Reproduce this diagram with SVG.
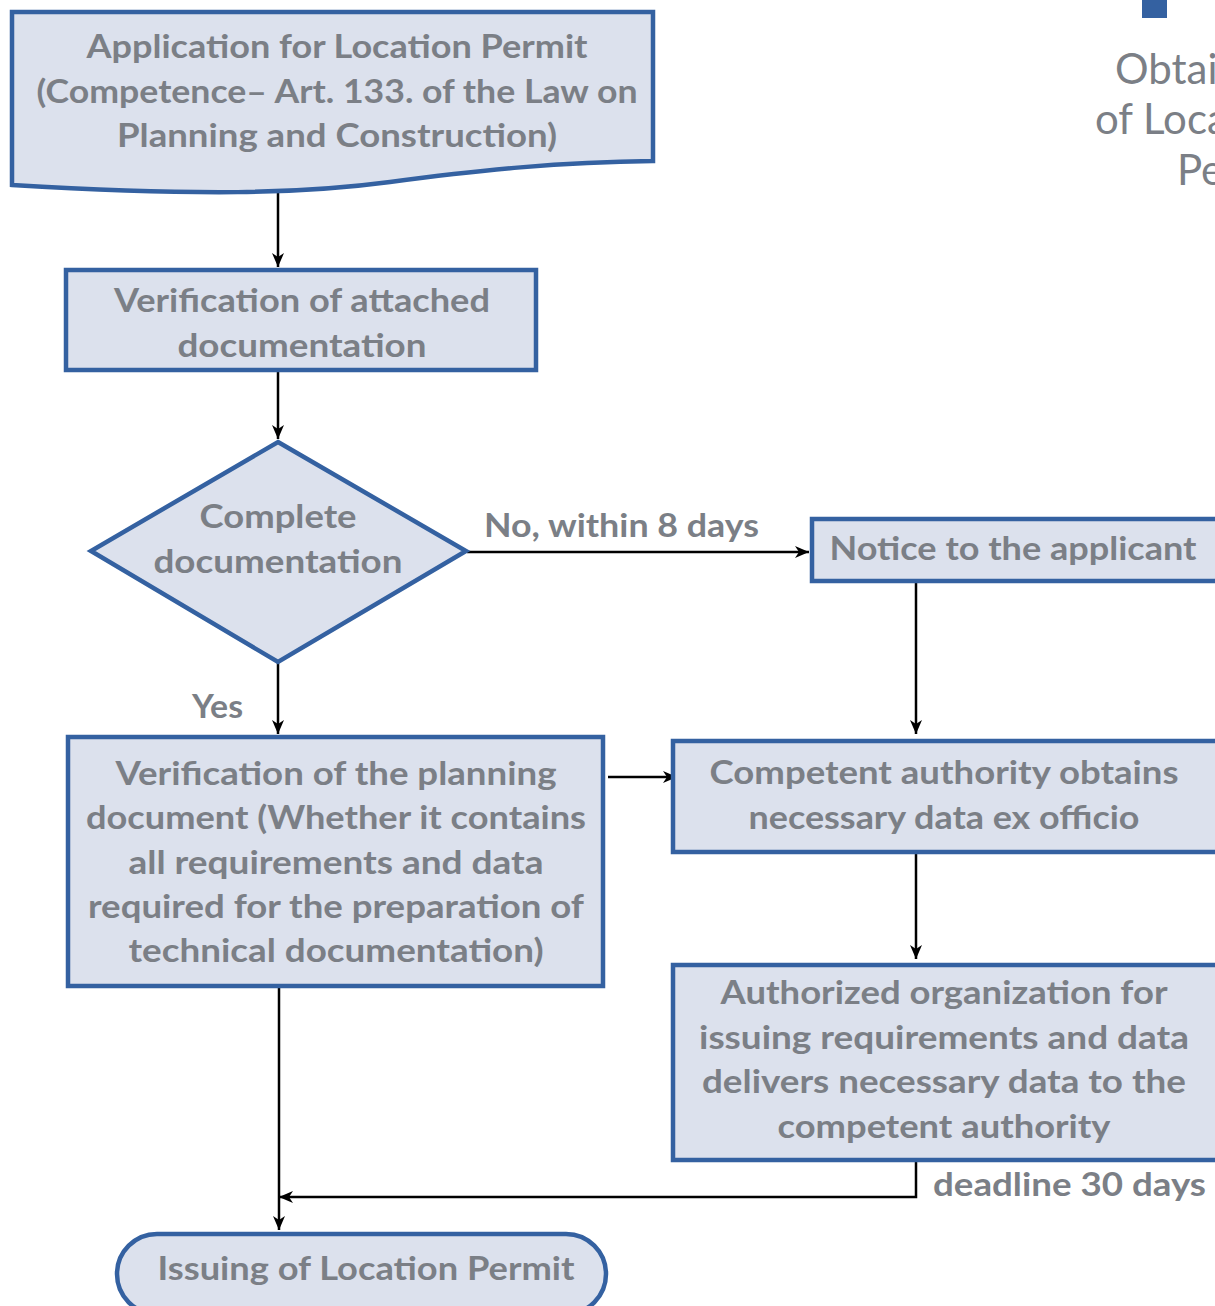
<svg xmlns="http://www.w3.org/2000/svg" width="1215" height="1306" viewBox="0 0 1215 1306">
<style>
.n{fill:#dce1ed;stroke:#3461a1;stroke-width:4.5}
.t{font-family:Lato,"Open Sans","Liberation Sans",sans-serif;font-weight:700;font-size:33px;fill:#7b7f86;text-anchor:middle}
.l{font-family:Lato,"Open Sans","Liberation Sans",sans-serif;font-weight:700;font-size:33px;fill:#7b7f86}
.c{fill:none;stroke:#000;stroke-width:2.5}
.h{font-family:Lato,"Open Sans","Liberation Sans",sans-serif;font-weight:400;font-size:42px;fill:#7b7f86}
</style>
<defs>
<marker id="ar" markerUnits="userSpaceOnUse" markerWidth="16" markerHeight="14" refX="14" refY="6" orient="auto">
<path d="M0,0 L14,6 L0,12 L4,6 z" fill="#000"/>
</marker>
</defs>
<rect width="1215" height="1306" fill="#fff"/>
<g id="title">
<rect x="1142" y="0" width="25" height="18" fill="#3461a1"/>
<text class="h" x="1115" y="84">Obtai</text>
<text class="h" x="1095" y="134">of Loca</text>
<text class="h" x="1177" y="185">Pe</text>
</g>
<g id="connectors">
<line class="c" x1="278" y1="192" x2="278" y2="267" marker-end="url(#ar)"/>
<line class="c" x1="278" y1="370" x2="278" y2="439" marker-end="url(#ar)"/>
<line class="c" x1="467" y1="552" x2="809" y2="552" marker-end="url(#ar)"/>
<line class="c" x1="278" y1="662" x2="278" y2="734" marker-end="url(#ar)"/>
<line class="c" x1="916" y1="581" x2="916" y2="734" marker-end="url(#ar)"/>
<line class="c" x1="608" y1="777" x2="677" y2="777" marker-end="url(#ar)"/>
<line class="c" x1="916" y1="852" x2="916" y2="959" marker-end="url(#ar)"/>
<polyline class="c" points="916,1160 916,1197 279,1197" marker-end="url(#ar)"/>
<line class="c" x1="279" y1="986" x2="279" y2="1230" marker-end="url(#ar)"/>
<text class="l" x="484" y="537" textLength="275" lengthAdjust="spacingAndGlyphs">No, within 8 days</text>
<text class="l" x="192" y="718" textLength="51" lengthAdjust="spacingAndGlyphs">Yes</text>
<text class="l" x="933" y="1196" textLength="273" lengthAdjust="spacingAndGlyphs">deadline 30 days</text>
</g>
<g id="application">
<path class="n" d="M12,12 L653,12 L653,161 C560,162 480,170 390,182 C300,194 200,196 12,185 Z"/>
<text class="t" x="337" y="58" textLength="501" lengthAdjust="spacingAndGlyphs">Application for Location Permit</text>
<text class="t" x="337" y="103" textLength="601" lengthAdjust="spacingAndGlyphs">(Competence– Art. 133. of the Law on</text>
<text class="t" x="337" y="147" textLength="440" lengthAdjust="spacingAndGlyphs">Planning and Construction)</text>
</g>
<g id="verification">
<rect class="n" x="66" y="270" width="470" height="100"/>
<text class="t" x="302" y="312" textLength="376" lengthAdjust="spacingAndGlyphs">Verification of attached</text>
<text class="t" x="302" y="357" textLength="249" lengthAdjust="spacingAndGlyphs">documentation</text>
</g>
<g id="decision">
<polygon class="n" points="278,442 466,551 278,662 91,551"/>
<text class="t" x="278" y="528" textLength="157" lengthAdjust="spacingAndGlyphs">Complete</text>
<text class="t" x="278" y="573" textLength="249" lengthAdjust="spacingAndGlyphs">documentation</text>
</g>
<g id="notice">
<rect class="n" x="812" y="519" width="420" height="62"/>
<text class="t" x="1013" y="560" textLength="367" lengthAdjust="spacingAndGlyphs">Notice to the applicant</text>
</g>
<g id="planning">
<rect class="n" x="68" y="737" width="535" height="249"/>
<text class="t" x="336" y="785" textLength="441" lengthAdjust="spacingAndGlyphs">Verification of the planning</text>
<text class="t" x="336" y="829" textLength="500" lengthAdjust="spacingAndGlyphs">document (Whether it contains</text>
<text class="t" x="336" y="874" textLength="415" lengthAdjust="spacingAndGlyphs">all requirements and data</text>
<text class="t" x="336" y="918" textLength="496" lengthAdjust="spacingAndGlyphs">required for the preparation of</text>
<text class="t" x="336" y="962" textLength="415" lengthAdjust="spacingAndGlyphs">technical documentation)</text>
</g>
<g id="competent">
<rect class="n" x="673" y="741" width="560" height="111"/>
<text class="t" x="944" y="784" textLength="469" lengthAdjust="spacingAndGlyphs">Competent authority obtains</text>
<text class="t" x="944" y="829" textLength="391" lengthAdjust="spacingAndGlyphs">necessary data ex officio</text>
</g>
<g id="authorized">
<rect class="n" x="673" y="965" width="560" height="195"/>
<text class="t" x="944" y="1004" textLength="447" lengthAdjust="spacingAndGlyphs">Authorized organization for</text>
<text class="t" x="944" y="1049" textLength="490" lengthAdjust="spacingAndGlyphs">issuing requirements and data</text>
<text class="t" x="944" y="1093" textLength="484" lengthAdjust="spacingAndGlyphs">delivers necessary  data to the</text>
<text class="t" x="944" y="1138" textLength="333" lengthAdjust="spacingAndGlyphs">competent authority</text>
</g>
<g id="issuing">
<rect class="n" x="117" y="1234" width="489" height="80" rx="40"/>
<text class="t" x="366" y="1280" textLength="417" lengthAdjust="spacingAndGlyphs">Issuing of Location Permit</text>
</g>
</svg>
